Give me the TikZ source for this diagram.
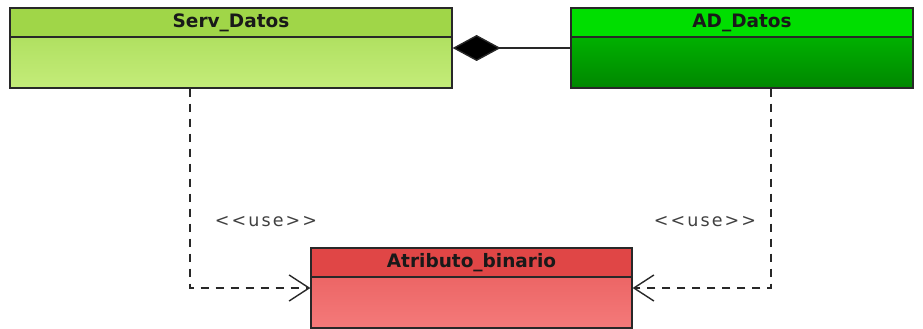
\documentclass[tikz,border=0pt]{standalone}
\usepackage{fontspec}
\setmainfont{DejaVu Sans}
\usetikzlibrary{arrows.meta}
\definecolor{boxline}{RGB}{40,40,40}
\definecolor{servhead}{RGB}{160,214,72}
\definecolor{servtop}{RGB}{165,218,82}
\definecolor{servbot}{RGB}{196,236,122}
\definecolor{adhead}{RGB}{0,222,0}
\definecolor{adtop}{RGB}{0,200,0}
\definecolor{adbot}{RGB}{0,135,0}
\definecolor{attrhead}{RGB}{224,70,70}
\definecolor{attrtop}{RGB}{232,90,90}
\definecolor{attrbot}{RGB}{244,122,122}
\begin{document}
\begin{tikzpicture}[x=1pt,y=-1pt,
    classbox/.style={draw=boxline,line width=1.2pt,minimum height=80pt,inner sep=0pt},
    classname/.style={draw=boxline,line width=1.2pt,minimum height=29pt,inner sep=0pt,
      anchor=north,font=\bfseries\fontsize{18.5}{18.5}\selectfont,text=black!90},
    uselabel/.style={font=\fontsize{17.5}{17.5}\selectfont\addfontfeature{LetterSpace=12},
      text=black!75,inner sep=0pt},
    usearrow/.style={draw=boxline,line width=1.4pt,dash pattern=on 8pt off 7pt,
      -{Straight Barb[length=20pt,width=26pt,line width=1.4pt]}},
    owner/.style={draw=boxline,line width=1.4pt,
      -{Diamond[length=48pt,width=26pt,fill=black]}}]
  \useasboundingbox (0,0) rectangle (923,329);
  % classes
  \node[classbox,minimum width=442pt,top color=servtop,bottom color=servbot] (serv) at (231,48) {};
  \node[classname,minimum width=442pt,fill=servhead] (servname) at (serv.north) {Serv\_Datos};
  \node[classbox,minimum width=342pt,top color=adtop,bottom color=adbot] (ad) at (742,48) {};
  \node[classname,minimum width=342pt,fill=adhead] (adname) at (ad.north) {AD\_Datos};
  \node[classbox,minimum width=321pt,top color=attrtop,bottom color=attrbot] (attr) at (471.5,288) {};
  \node[classname,minimum width=321pt,fill=attrhead] (attrname) at (attr.north) {Atributo\_binario};
  % stereotypes
  \node[uselabel] (useleft) at (266,222) {{<}{<}use{>}{>}};
  \node[uselabel] (useright) at (705,222) {{<}{<}use{>}{>}};
  % relations
  \begin{scope}
    \draw[owner] (ad.west) -- (serv.east);
    \draw[usearrow] ([xshift=-41pt]serv.south) |- (attr.west);
    \draw[usearrow] ([xshift=29pt]ad.south) |- (attr.east);
  \end{scope}
\end{tikzpicture}
\end{document}
